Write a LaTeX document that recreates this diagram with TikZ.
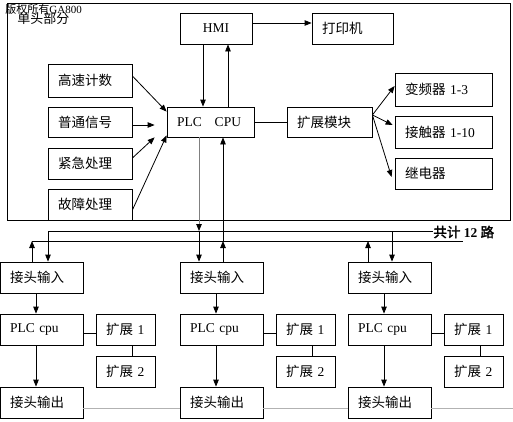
\documentclass[tikz,border=0pt]{standalone}
\usepackage{fontspec}
\setmainfont{Liberation Serif}
\newfontfamily\cjk{Noto Sans CJK SC}
\newfontfamily\cjkbold[FakeBold=2.5]{Noto Sans CJK SC}
\usetikzlibrary{arrows.meta, positioning}
\newcommand{\zh}[1]{{\cjk #1}}

\begin{document}
\begin{tikzpicture}[
    x=1pt, y=-1pt,
    on grid,
    line width=0.8pt,
    >={Triangle[length=7pt, width=5.5pt]},
    every node/.style={font=\fontsize{13.5}{16}\selectfont},
    box/.style={draw, line width=0.8pt, inner xsep=10pt, inner ysep=0pt, align=left, minimum height=31pt, text width=#1},
    garr/.style={draw=gray, -{Triangle[length=7pt, width=5.5pt, color=black]}}
]
   \useasboundingbox (0,0) rectangle (513,421);

   % Main unit
   \draw (7,3) rectangle (510,220);
   \node[anchor=west, inner sep=0pt, font=\fontsize{13}{15}\selectfont\cjk] (part) at (17,18.5) {单头部分};
   \node[anchor=west, inner sep=0pt, font=\fontsize{11}{13}\selectfont] (copy) at (5,9) {\zh{版权所有}GA800};

   \node[box=52pt, align=center] (hmi) at (216,28.5) {HMI};
   \node[box=61pt, right=136.5pt of hmi] (printer) {\zh{打印机}};

   \node[box=64pt, minimum height=33pt] (fast) at (90,80.5) {\zh{高速计数}};
   \node[box=64pt, minimum height=30pt, below=41.5pt of fast] (normal) {\zh{普通信号}};
   \node[box=64pt, below=41.5pt of normal] (urgent) {\zh{紧急处理}};
   \node[box=64pt, below=41pt of urgent] (fault) {\zh{故障处理}};

   \node[box=67pt, minimum height=30pt] (cpu) at (210.5,122) {PLC\hspace{13pt}CPU};
   \node[box=65pt, minimum height=30pt, right=119pt of cpu] (module) {\zh{扩展模块}};

   \node[box=77pt, minimum height=33pt] (vfd) at (443.5,89.5) {\zh{变频器} 1-3};
   \node[box=77pt, minimum height=32pt, below=42.5pt of vfd] (contactor) {\zh{接触器} 1-10};
   \node[box=77pt, below=41.5pt of contactor] (relay) {\zh{继电器}};

   % Connections in the main unit
   \draw[->] ([xshift=-13pt]hmi.south) -- ([xshift=-13pt]hmi.south |- cpu.north);
   \draw[->] ([xshift=12pt]hmi.south |- cpu.north) -- ([xshift=12pt]hmi.south);
   \draw[->] ([yshift=5.5pt]hmi.east) -- ([yshift=5.5pt]hmi.east -| printer.west);

   \draw[->] ([yshift=4.5pt]fast.east) -- ([yshift=-5pt]cpu.north west);
   \draw[->] ([yshift=-3pt]normal.east) -- ([xshift=-12pt, yshift=-3pt]cpu.west);
   \draw[->] ([yshift=5.5pt]urgent.east) -- ([xshift=-12pt]cpu.south west);
   \draw[->] ([yshift=-5.5pt]fault.east) -- ([yshift=2pt]cpu.south west);

   \draw (cpu) -- (module);
   \coordinate (fan) at ([yshift=7pt]module.east);
   \path[->] (fan) edge ([yshift=3.5pt]vfd.west)
                   edge ([xshift=-2pt, yshift=7pt]contactor.west)
                   edge ([xshift=-3pt, yshift=-3.5pt]relay.west);

   % Bus lines
   \coordinate (upA) at (48,231);
   \coordinate (loA) at (32,241);
   \coordinate (loB) at (463,241);
   \node[anchor=west, inner sep=0pt] (total) at (433,232) {{\cjkbold 共计} \textbf{12} {\cjkbold 路}};
   \draw (upA) -- (total.west |- upA);
   \draw (loA) -- (loB);

   \draw[garr] ([xshift=-11.5pt]cpu.south) -- ([xshift=-11.5pt]cpu.south |- upA);
   \draw[->] ([xshift=12.5pt]cpu.south |- loA) -- ([xshift=12.5pt]cpu.south);

   % Heads
   \foreach \n/\x/\rise/\drop in {1/41.5/-9.5pt/6.5pt, 2/221.5/1.5pt/-22.5pt, 3/389.5/-21.5pt/2.5pt} {
      \node[box=63pt] (in\n) at (\x,277.5) {\zh{接头输入}};
      \node[box=63pt, below=52pt of in\n] (plc\n) {PLC cpu};
      \node[box=63pt, below=73pt of plc\n] (out\n) {\zh{接头输出}};
      \node[box=39pt, right=84pt of plc\n] (exta\n) {\zh{扩展} 1};
      \node[box=39pt, below=42pt of exta\n] (extb\n) {\zh{扩展} 2};

      \draw[->] ([xshift=\drop]in\n.north |- upA) -- ([xshift=\drop]in\n.north);
      \draw[->] ([xshift=\rise]in\n.north) -- ([xshift=\rise]in\n.north |- loA);
      \draw[->] ([xshift=-5.5pt]in\n.south) -- ([xshift=-5.5pt]plc\n.north);
      \draw[->] ([xshift=-5.5pt]plc\n.south) -- ([xshift=-5.5pt]out\n.north);
      \draw ([yshift=-3.5pt]plc\n.east) -- ([yshift=-3.5pt]plc\n.east -| exta\n.west);
      \draw ([xshift=7pt]exta\n.south) -- ([xshift=7pt]extb\n.north);
   }

   % Output line
   \coordinate (rim) at (513,408);
   \draw[gray!60] ([yshift=-5.5pt]out1.east) -- ([yshift=-5.5pt]out1.east -| out2.west);
   \draw[gray!60] ([yshift=-5.5pt]out2.east) -- ([yshift=-5.5pt]out2.east -| out3.west);
   \draw[gray!60] ([yshift=-5.5pt]out3.east) -- (rim);

\end{tikzpicture}
\end{document}
